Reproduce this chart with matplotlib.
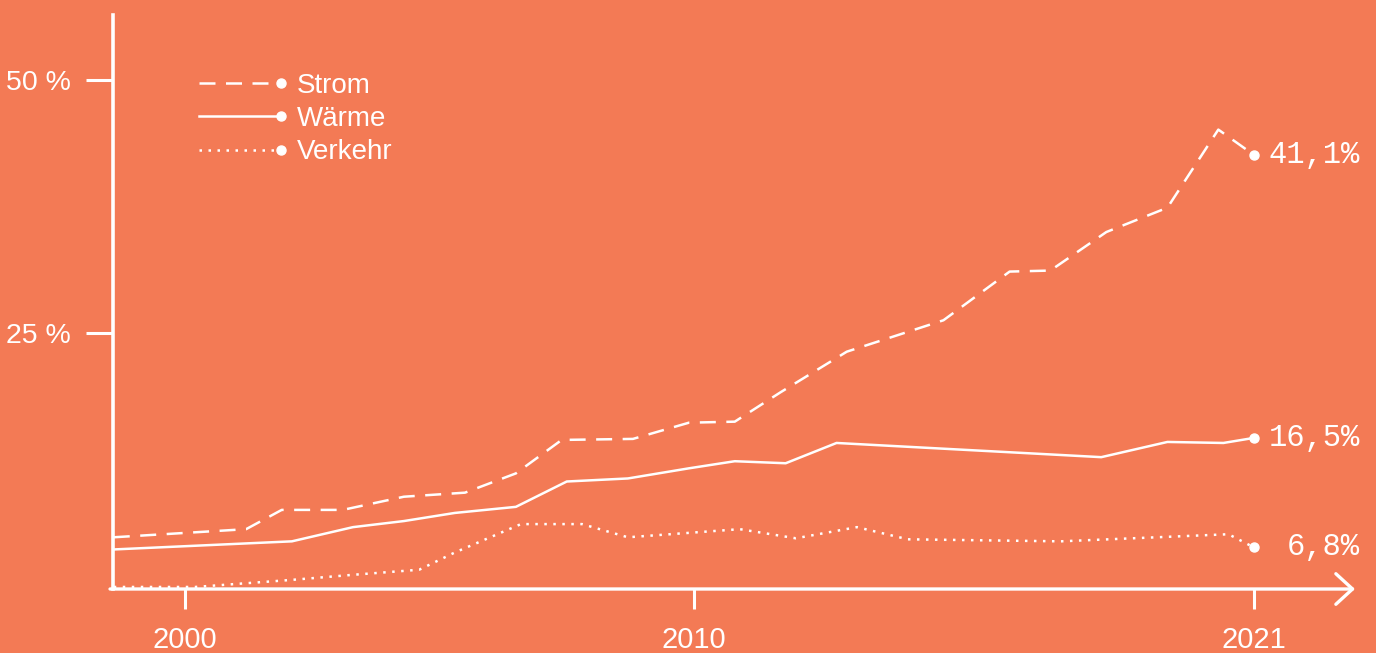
import matplotlib.pyplot as plt
from matplotlib.legend_handler import HandlerLine2D

# Anteil erneuerbarer Energien
strom_jahre = [1998.6, 2001.2, 2001.9, 2003.1, 2004.3, 2005.5, 2006.5, 2007.4, 2008.8, 2009.9,
               2010.8, 2011.7, 2013.0, 2014.9, 2016.2, 2017.0, 2018.1, 2019.3, 2020.3, 2021.0]
strom_werte = [4.9, 5.7, 7.6, 7.6, 8.9, 9.3, 11.2, 14.5, 14.6, 16.2,
               16.3, 19.2, 23.2, 26.3, 31.1, 31.2, 35.0, 37.4, 45.1, 42.6]

waerme_jahre = [1998.6, 2002.1, 2003.3, 2004.3, 2005.3, 2006.5, 2007.5, 2008.7, 2009.9, 2010.8,
                2011.8, 2012.8, 2018.0, 2019.3, 2020.4, 2021.0]
waerme_werte = [3.7, 4.5, 5.9, 6.5, 7.3, 7.9, 10.4, 10.7, 11.7, 12.4,
                12.2, 14.2, 12.8, 14.3, 14.2, 14.7]

verkehr_jahre = [1998.6, 2000.2, 2002.1, 2003.3, 2004.6, 2005.3, 2006.6, 2007.8, 2008.7, 2010.9,
                 2012.0, 2013.2, 2014.2, 2017.2, 2020.5, 2021.0]
verkehr_werte = [0.0, 0.0, 0.7, 1.2, 1.7, 3.4, 6.2, 6.2, 4.9, 5.7,
                 4.8, 5.9, 4.7, 4.5, 5.2, 3.9]

namen = ["Strom", "Wärme", "Verkehr"]
end_labels = ["41,1%", "16,5%", "6,8%"]
x_ticks = [2000, 2010, 2021]
y_ticks = [25, 50]
y_ticklabels = ["25 %", "50 %"]

bg = "#F37A55"
weiss = "white"
plt.rcParams['font.family'] = ['Liberation Sans', 'DejaVu Sans']


# Legenden-Handle mit Punkt am rechten Ende statt in der Mitte
class EndDotHandler(HandlerLine2D):
    def create_artists(self, *args, **kwargs):
        artists = super().create_artists(*args, **kwargs)
        for a in artists:
            a.set_markevery([-1])
        return artists


fig = plt.figure(figsize=(13.76, 6.53), dpi=100, facecolor=bg)
ax = fig.add_axes([113 / 1376, 64 / 653, 1242 / 1376, 574 / 653])
ax.set_facecolor(bg)

stile = [(0, (6.4, 4.2)), '-', (0, (1, 2.6))]
daten = [(strom_jahre, strom_werte), (waerme_jahre, waerme_werte), (verkehr_jahre, verkehr_werte)]
linien = []
for (jahre, werte), name, ls, lab in zip(daten, namen, stile, end_labels):
    l, = ax.plot(jahre, werte, color=weiss, lw=1.8, ls=ls, marker='o', markevery=[-1],
                 markersize=6.5, label=name, clip_on=False, dash_capstyle='butt')
    linien.append(l)
    ax.annotate(lab, xy=(jahre[-1], werte[-1]), xytext=(76, 0), textcoords='offset points',
                ha='right', va='center', color=weiss, fontsize=22, family='Liberation Mono')

ax.set_xlim(1998.585, 2022.985)
ax.set_ylim(-0.2, 56.4)

for s in ['top', 'right', 'bottom']:
    ax.spines[s].set_visible(False)
ax.spines['left'].set_color(weiss)
ax.spines['left'].set_linewidth(2.6)

# x-Achse mit Pfeil
ax.annotate('', xy=(1, 0), xytext=(-0.0024, 0), xycoords='axes fraction',
            arrowprops=dict(arrowstyle='->,head_length=0.6,head_width=0.55', lw=2.4,
                            color=weiss, shrinkA=0, shrinkB=0, mutation_scale=20))

ax.set_xticks(x_ticks)
ax.set_xticklabels([str(j) for j in x_ticks])
ax.set_yticks(y_ticks)
ax.set_yticklabels(y_ticklabels)
ax.tick_params(axis='x', length=14.4, width=2.2, color=weiss, labelcolor=weiss,
               labelsize=21, pad=12)
ax.tick_params(axis='y', length=19.4, width=2.2, color=weiss, labelcolor=weiss,
               labelsize=20.5, pad=11)

leg = ax.legend(handles=linien, handler_map={l: EndDotHandler(numpoints=1) for l in linien},
                loc='upper left', bbox_to_anchor=(199 / 1376, 1 - 73 / 653),
                bbox_transform=fig.transFigure, frameon=False, fontsize=20,
                handlelength=2.95, handletextpad=0.58, labelspacing=0.26,
                borderpad=0, borderaxespad=0)
for t in leg.get_texts():
    t.set_color(weiss)

fig.savefig("out.png", dpi=100, facecolor=bg)
